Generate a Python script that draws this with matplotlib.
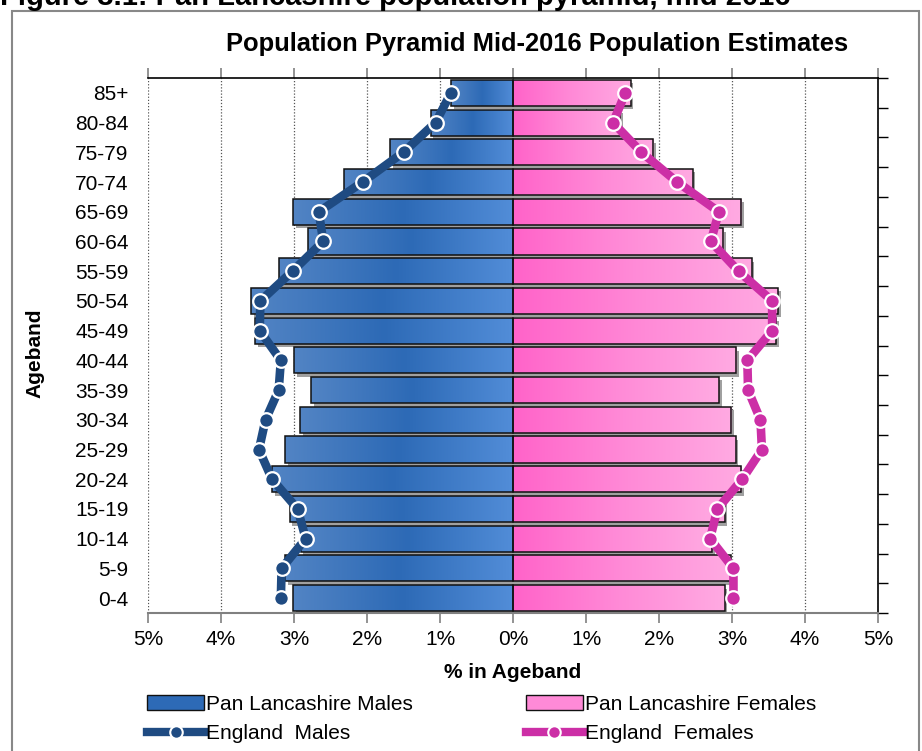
import numpy as np
import matplotlib
matplotlib.use("Agg")
import matplotlib.pyplot as plt
import matplotlib.patheffects as pe
from matplotlib.colors import LinearSegmentedColormap
from matplotlib.lines import Line2D
from matplotlib.patches import Patch, Rectangle

plt.rcParams['font.family'] = ['Liberation Sans', 'DejaVu Sans']

# age bands, bottom to top
ages = ['0-4', '5-9', '10-14', '15-19', '20-24', '25-29', '30-34', '35-39', '40-44',
        '45-49', '50-54', '55-59', '60-64', '65-69', '70-74', '75-79', '80-84', '85+']

# % in ageband
pl_males = [3.01, 3.12, 2.91, 3.06, 3.30, 3.12, 2.92, 2.77, 3.00,
            3.53, 3.59, 3.20, 2.81, 3.01, 2.32, 1.68, 1.13, 0.85]
pl_females = [2.90, 2.98, 2.73, 2.90, 3.13, 3.05, 2.99, 2.82, 3.06,
              3.60, 3.63, 3.27, 2.88, 3.13, 2.46, 1.92, 1.47, 1.61]
eng_males = [3.18, 3.17, 2.84, 2.95, 3.30, 3.48, 3.39, 3.21, 3.18,
             3.47, 3.46, 3.02, 2.60, 2.66, 2.06, 1.50, 1.06, 0.85]
eng_females = [3.02, 3.02, 2.70, 2.80, 3.14, 3.41, 3.39, 3.22, 3.21,
               3.55, 3.55, 3.09, 2.71, 2.82, 2.25, 1.76, 1.37, 1.54]

xticks = [-5, -4, -3, -2, -1, 0, 1, 2, 3, 4, 5]
xtick_labels = ['5%', '4%', '3%', '2%', '1%', '0%', '1%', '2%', '3%', '4%', '5%']

male_cmap = LinearSegmentedColormap.from_list('m', ['#5284c4', '#2d6ab6', '#528dd8'])
female_cmap = LinearSegmentedColormap.from_list('f', ['#ff63c9', '#ff8ad7', '#ffaae2'])
male_line = '#1f4b82'
female_line = '#cc2fa6'

W, H = 922, 751
fig = plt.figure(figsize=(W / 100, H / 100), dpi=100)
ax = fig.add_axes([148 / W, 1 - 613 / H, 730 / W, 535 / H])

y = np.arange(len(ages))
males_neg = [-v for v in pl_males]
bh = 0.88

ax.set_xlim(-5, 5)
ax.set_ylim(-0.5, len(ages) - 0.5)

# dotted gridlines
for xv in xticks:
    ax.axvline(xv, color='#555555', lw=0.9, ls=(0, (1, 1.5)), zorder=1)

shadow = [pe.SimplePatchShadow(offset=(2, -2.5), shadow_rgbFace='#a0a0a0', alpha=1), pe.Normal()]

# bars with gradient fill
for vals, cmap in [(males_neg, male_cmap), (pl_females, female_cmap)]:
    bars = ax.barh(y, vals, height=bh, color=cmap(0.5), edgecolor='none', zorder=2)
    for b in bars:
        b.set_path_effects(shadow)
        x0, x1 = sorted([0, b.get_width()])
        y0 = b.get_y()
        grad = np.linspace(0, 1, 256).reshape(1, -1)
        im = ax.imshow(grad, extent=[x0, x1, y0, y0 + bh], aspect='auto', cmap=cmap,
                       zorder=2.5, interpolation='bilinear')
        im.set_clip_path(b)
    ax.barh(y, vals, height=bh, color='none', edgecolor='#111111', lw=1.1, zorder=3)

ax.set_xlim(-5, 5)
ax.set_ylim(-0.5, len(ages) - 0.5)

# England lines
ax.plot([-v for v in eng_males], y, color=male_line, lw=6.2, marker='o', ms=10.5,
        mfc=male_line, mec='white', mew=1.6, zorder=4, solid_joinstyle='round')
ax.plot(eng_females, y, color=female_line, lw=6.2, marker='o', ms=10.5,
        mfc=female_line, mec='white', mew=1.6, zorder=4, solid_joinstyle='round')

ax.set_xticks(xticks)
ax.set_xticklabels(xtick_labels)
ax.set_yticks(y)
ax.set_yticklabels(ages)
ax.set_yticks(np.arange(len(ages) + 1) - 0.5, minor=True)

ax.tick_params(axis='x', which='both', direction='out', length=7, width=1.2, color='#808080',
               labelsize=15, pad=5, top=True)
ax.tick_params(axis='y', which='major', length=0, labelsize=15, pad=14)
ax.tick_params(axis='y', which='minor', direction='out', length=7, width=1.0,
               left=False, right=True, color='black')

ax.spines['left'].set_visible(False)
ax.spines['bottom'].set_color('#808080')
ax.spines['bottom'].set_linewidth(1.5)
ax.spines['top'].set_linewidth(1.2)
ax.spines['right'].set_linewidth(1.2)

fig.text(537 / W, 1 - 44 / H, 'Population Pyramid Mid-2016 Population Estimates',
         ha='center', va='center', fontsize=18.4, fontweight='bold')
fig.text(513 / W, 1 - 672 / H, '% in Ageband', ha='center', va='center',
         fontsize=15, fontweight='bold')
fig.text(35 / W, 1 - 353 / H, 'Ageband', ha='center', va='center', rotation=90,
         fontsize=15, fontweight='bold')

# cut-off figure caption and outer box
fig.text(0, 1 - 5 / H, 'Figure 3.1: Pan Lancashire population pyramid, mid 2016',
         ha='left', va='baseline', fontsize=21, fontweight='bold')
fig.patches.append(Rectangle((12 / W, -0.01), 907 / W, 1 - 11 / H + 0.01,
                             transform=fig.transFigure, fill=False,
                             edgecolor='#888888', lw=1.5))

# legend: column 1 males, column 2 females
handles = [Patch(facecolor=male_cmap(0.5), edgecolor='#111111'),
           Line2D([], [], color=male_line, lw=6, marker='o', ms=9, mfc=male_line, mec='white', mew=1.5),
           Patch(facecolor=female_cmap(0.5), edgecolor='#111111'),
           Line2D([], [], color=female_line, lw=6, marker='o', ms=9, mfc=female_line, mec='white', mew=1.5)]
labels = ['Pan Lancashire Males', 'England  Males', 'Pan Lancashire Females', 'England  Females']
fig.legend(handles, labels, ncol=2, loc='upper left', bbox_to_anchor=(147 / W, 1 - 695 / H),
           frameon=False, fontsize=15, handlelength=2.75, handleheight=0.75, handletextpad=0.1,
           columnspacing=5.4, labelspacing=0.5, borderpad=0, borderaxespad=0)

fig.savefig('out.png', dpi=100)
